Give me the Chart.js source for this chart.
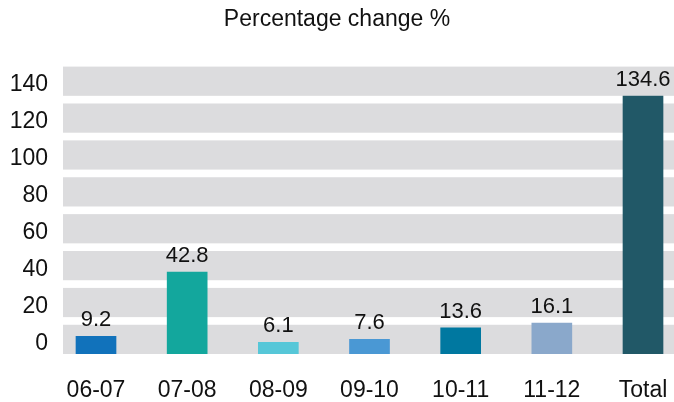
<!DOCTYPE html>
<html>
<head>
<meta charset="utf-8">
<script src="https://cdn.jsdelivr.net/npm/chart.js@4.4.1/dist/chart.umd.min.js"></script>
<style>
  html, body { margin: 0; padding: 0; background: #fff; }
  #wrap { width: 674px; height: 402px; }
</style>
</head>
<body>
<div id="wrap"><canvas id="chart"></canvas></div>
<script>
const categories = ["06-07", "07-08", "08-09", "09-10", "10-11", "11-12", "Total"];
const changes = [9.2, 42.8, 6.1, 7.6, 13.6, 16.1, 134.6];
const barColors = ["#1172bb", "#13a79d", "#56c7d8", "#4a98d4", "#0078a0", "#8aa8cb", "#215867"];
const tickLabels = ["0", "20", "40", "60", "80", "100", "120", "140"];

const yMax = 150;
const bandGap = 4;
const bandStep = (yMax + bandGap) / tickLabels.length;
const bandSize = bandStep - bandGap;
const font = "'Liberation Sans', Arial, sans-serif";

// grey horizontal bands behind the bars, one per tick label
const bandsPlugin = {
  id: "bands",
  beforeDatasetsDraw(chart) {
    const { ctx, chartArea, scales } = chart;
    ctx.save();
    ctx.fillStyle = "#dcdcde";
    tickLabels.forEach((_, i) => {
      const top = scales.y.getPixelForValue(i * bandStep + bandSize);
      const bottom = scales.y.getPixelForValue(i * bandStep);
      ctx.fillRect(chartArea.left, top, chartArea.right - chartArea.left, bottom - top);
    });
    ctx.restore();
  }
};

// value text above each bar
const valueLabels = {
  id: "valueLabels",
  afterDatasetsDraw(chart) {
    const { ctx } = chart;
    const meta = chart.getDatasetMeta(0);
    ctx.save();
    ctx.font = "22px " + font;
    ctx.fillStyle = "#111";
    ctx.textAlign = "center";
    ctx.textBaseline = "alphabetic";
    meta.data.forEach((bar, i) => {
      ctx.fillText(changes[i].toFixed(1), bar.x, bar.y - 10);
    });
    ctx.restore();
  }
};

new Chart(document.getElementById("chart"), {
  type: "bar",
  data: {
    datasets: [{
      data: changes.map((v, i) => ({ x: i, y: v })),
      backgroundColor: barColors,
      barThickness: 40,
      borderWidth: 0
    }]
  },
  options: {
    responsive: true,
    maintainAspectRatio: false,
    animation: false,
    layout: { padding: 0 },
    plugins: {
      legend: { display: false },
      tooltip: { enabled: false },
      title: {
        display: true,
        text: "Percentage change %",
        color: "#111",
        font: { family: font, size: 23, weight: "normal" },
        padding: { top: 6, bottom: 33 }
      }
    },
    scales: {
      x: {
        type: "linear",
        offset: false,
        min: -0.362,
        max: 6.34,
        grid: { display: false, drawTicks: false },
        border: { display: false },
        afterBuildTicks(scale) {
          scale.ticks = categories.map((c, i) => ({ value: i }));
        },
        afterFit(scale) {
          scale.height = 48;
          scale.paddingLeft = 0;
          scale.paddingRight = 0;
        },
        ticks: {
          color: "#111",
          padding: 23,
          maxRotation: 0,
          autoSkip: false,
          font: { family: font, size: 23 },
          callback: (v) => categories[v]
        }
      },
      y: {
        min: 0,
        max: yMax,
        grid: { display: false, drawTicks: false },
        border: { display: false },
        afterBuildTicks(scale) {
          scale.ticks = tickLabels.map((t, i) => ({ value: i * bandStep + bandSize / 2 - 2 }));
        },
        afterFit(scale) {
          scale.width = 63;
          scale.paddingTop = 0;
          scale.paddingBottom = 0;
        },
        ticks: {
          color: "#111",
          padding: 15,
          autoSkip: false,
          font: { family: font, size: 23 },
          callback: (v, i) => tickLabels[i]
        }
      }
    }
  },
  plugins: [bandsPlugin, valueLabels]
});
</script>
</body>
</html>
